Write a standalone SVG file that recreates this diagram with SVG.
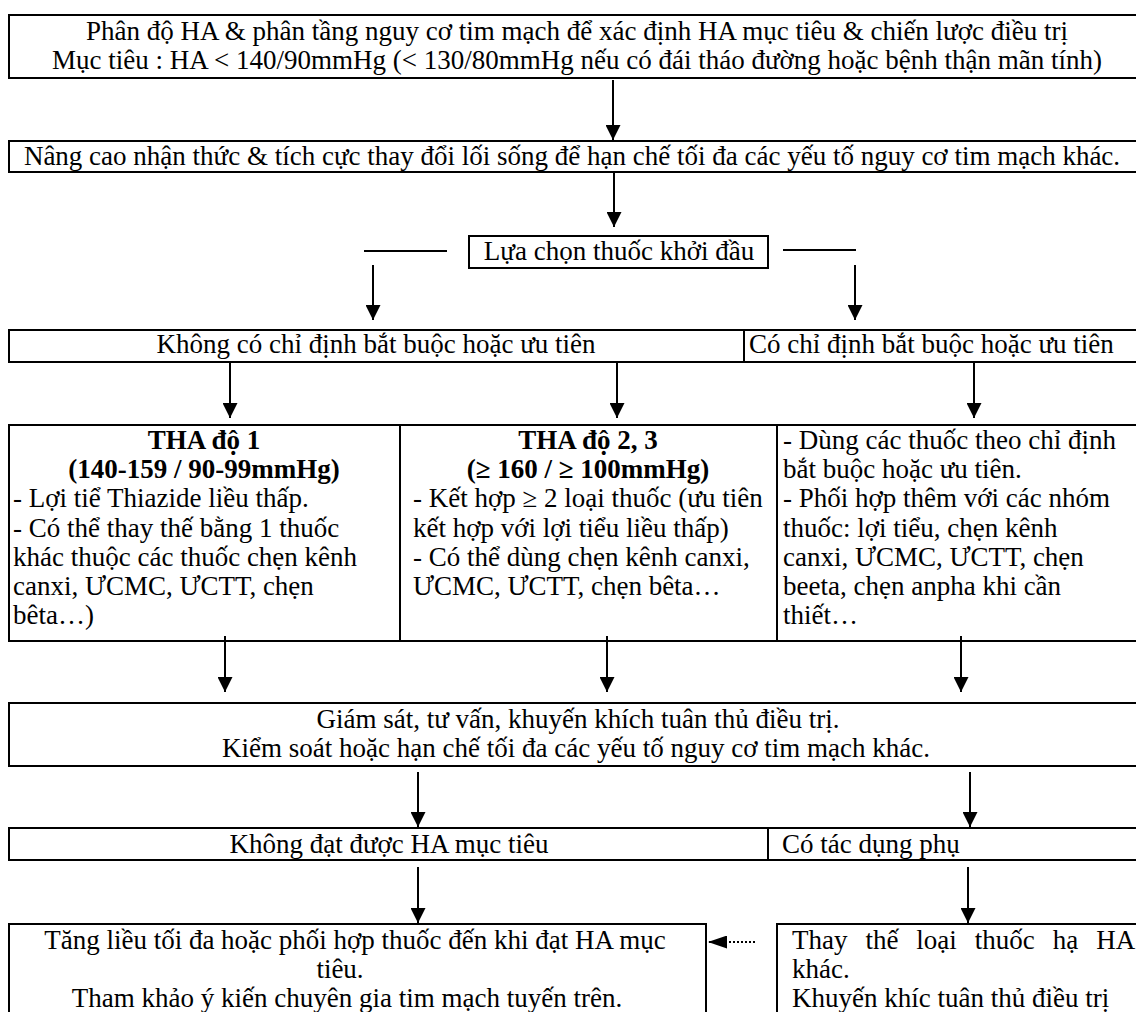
<svg xmlns="http://www.w3.org/2000/svg" width="1136" height="1012" viewBox="0 0 1136 1012">
<style>
  .box { fill: #ffffff; stroke: #000000; stroke-width: 2; }
  .t { font-family: "Liberation Serif", "Times New Roman", serif; font-size: 27px; fill: #000000; }
  .c { text-anchor: middle; }
  .b { font-weight: bold; }
  .conn { stroke: #000000; stroke-width: 2; fill: none; }
  .dot { stroke: #000000; stroke-width: 2; fill: none; stroke-dasharray: 2 2; }
</style>
<defs>
  <marker id="ah" markerUnits="userSpaceOnUse" markerWidth="15" markerHeight="15" refX="15" refY="7.5" orient="auto">
    <path d="M0,0 L15,7.5 L0,15 z" fill="#000000"/>
  </marker>
  <marker id="ahd" markerUnits="userSpaceOnUse" markerWidth="19" markerHeight="13" refX="19" refY="6.5" orient="auto">
    <path d="M0,0 L19,6.5 L0,13 z" fill="#000000"/>
  </marker>
</defs>
<rect x="0" y="0" width="1136" height="1012" fill="#ffffff"/>

<g id="n-target">
  <rect class="box" x="9" y="15" width="1136" height="63"/>
  <text class="t c" x="577" y="40">Phân độ HA &amp; phân tầng nguy cơ tim mạch để xác định HA mục tiêu &amp; chiến lược điều trị</text>
  <text class="t c" x="577" y="69">Mục tiêu : HA &lt; 140/90mmHg (&lt; 130/80mmHg nếu có đái tháo đường hoặc bệnh thận mãn tính)</text>
</g>

<g id="n-lifestyle">
  <rect class="box" x="9" y="141" width="1136" height="31"/>
  <text class="t c" x="572" y="165">Nâng cao nhận thức &amp; tích cực thay đổi lối sống để hạn chế tối đa các yếu tố nguy cơ tim mạch khác.</text>
</g>

<g id="n-initial">
  <rect class="box" x="469" y="236" width="299" height="32"/>
  <text class="t c" x="619" y="260">Lựa chọn thuốc khởi đầu</text>
</g>

<g id="n-no-indication">
  <rect class="box" x="9" y="330" width="735" height="32"/>
  <text class="t c" x="376" y="353">Không có chỉ định bắt buộc hoặc ưu tiên</text>
</g>

<g id="n-indication">
  <rect class="box" x="744" y="330" width="401" height="32"/>
  <text class="t" x="749" y="353">Có chỉ định bắt buộc hoặc ưu tiên</text>
</g>

<g id="n-stage1">
  <rect class="box" x="9" y="425" width="391" height="216"/>
  <text class="t c b" x="204" y="449">THA độ 1</text>
  <text class="t c b" x="204" y="478">(140-159 / 90-99mmHg)</text>
  <text class="t" x="13" y="507">- Lợi tiể Thiazide liều thấp.</text>
  <text class="t" x="13" y="537">- Có thể thay thế bằng 1 thuốc</text>
  <text class="t" x="13" y="566">khác thuộc các thuốc chẹn kênh</text>
  <text class="t" x="13" y="595">canxi, ƯCMC, ƯCTT, chẹn</text>
  <text class="t" x="13" y="624">bêta…)</text>
</g>

<g id="n-stage23">
  <rect class="box" x="400" y="425" width="377" height="216"/>
  <text class="t c b" x="588" y="449">THA độ 2, 3</text>
  <text class="t c b" x="588" y="478">(≥ 160 / ≥ 100mmHg)</text>
  <text class="t" x="413" y="507">- Kết hợp ≥ 2 loại thuốc (ưu tiên</text>
  <text class="t" x="413" y="537">kết hợp với lợi tiểu liều thấp)</text>
  <text class="t" x="413" y="566">- Có thể dùng chẹn kênh canxi,</text>
  <text class="t" x="413" y="595">ƯCMC, ƯCTT, chẹn bêta…</text>
</g>

<g id="n-compelling">
  <rect class="box" x="777" y="425" width="368" height="216"/>
  <text class="t" x="783" y="449">- Dùng các thuốc theo chỉ định</text>
  <text class="t" x="783" y="478">bắt buộc hoặc ưu tiên.</text>
  <text class="t" x="783" y="507">- Phối hợp thêm với các nhóm</text>
  <text class="t" x="783" y="537">thuốc: lợi tiểu, chẹn kênh</text>
  <text class="t" x="783" y="566">canxi, ƯCMC, ƯCTT, chẹn</text>
  <text class="t" x="783" y="595">beeta, chẹn anpha khi cần</text>
  <text class="t" x="783" y="624">thiết…</text>
</g>

<g id="n-monitor">
  <rect class="box" x="9" y="703" width="1136" height="63"/>
  <text class="t c" x="578" y="728">Giám sát, tư vấn, khuyến khích tuân thủ điều trị.</text>
  <text class="t c" x="576" y="757">Kiểm soát hoặc hạn chế tối đa các yếu tố nguy cơ tim mạch khác.</text>
</g>

<g id="n-not-reached">
  <rect class="box" x="9" y="828" width="759" height="32"/>
  <text class="t c" x="389" y="853">Không đạt được HA mục tiêu</text>
</g>

<g id="n-side-effect">
  <rect class="box" x="768" y="828" width="377" height="32"/>
  <text class="t" x="782" y="853">Có tác dụng phụ</text>
</g>

<g id="n-increase">
  <rect class="box" x="9" y="924" width="697" height="110"/>
  <text class="t c" x="355" y="949">Tăng liều tối đa hoặc phối hợp thuốc đến khi đạt HA mục</text>
  <text class="t c" x="340" y="978">tiêu.</text>
  <text class="t c" x="347" y="1007">Tham khảo ý kiến chuyên gia tim mạch tuyến trên.</text>
</g>

<g id="n-replace">
  <rect class="box" x="777" y="924" width="368" height="110"/>
  <text class="t" x="792" y="949" word-spacing="11.2">Thay thế loại thuốc hạ HA</text>
  <text class="t" x="792" y="978">khác.</text>
  <text class="t" x="792" y="1007">Khuyến khíc tuân thủ điều trị</text>
</g>

<g id="connectors">
  <line class="conn" x1="613" y1="80" x2="613" y2="140" marker-end="url(#ah)"/>
  <line class="conn" x1="614" y1="172" x2="614" y2="227" marker-end="url(#ah)"/>
  <line class="conn" x1="364" y1="251" x2="447" y2="251"/>
  <line class="conn" x1="783" y1="250" x2="856" y2="250"/>
  <line class="conn" x1="373" y1="265" x2="373" y2="320" marker-end="url(#ah)"/>
  <line class="conn" x1="855" y1="265" x2="855" y2="320" marker-end="url(#ah)"/>
  <line class="conn" x1="230" y1="362" x2="230" y2="418" marker-end="url(#ah)"/>
  <line class="conn" x1="617" y1="362" x2="617" y2="418" marker-end="url(#ah)"/>
  <line class="conn" x1="974" y1="362" x2="974" y2="418" marker-end="url(#ah)"/>
  <line class="conn" x1="225" y1="636" x2="225" y2="692" marker-end="url(#ah)"/>
  <line class="conn" x1="607" y1="636" x2="607" y2="692" marker-end="url(#ah)"/>
  <line class="conn" x1="961" y1="636" x2="961" y2="692" marker-end="url(#ah)"/>
  <line class="conn" x1="418" y1="772" x2="418" y2="827" marker-end="url(#ah)"/>
  <line class="conn" x1="970" y1="772" x2="970" y2="827" marker-end="url(#ah)"/>
  <line class="conn" x1="418" y1="867" x2="418" y2="923" marker-end="url(#ah)"/>
  <line class="conn" x1="968" y1="867" x2="968" y2="923" marker-end="url(#ah)"/>
  <line class="dot" x1="755" y1="942" x2="708" y2="942" marker-end="url(#ahd)"/>
</g>
</svg>
